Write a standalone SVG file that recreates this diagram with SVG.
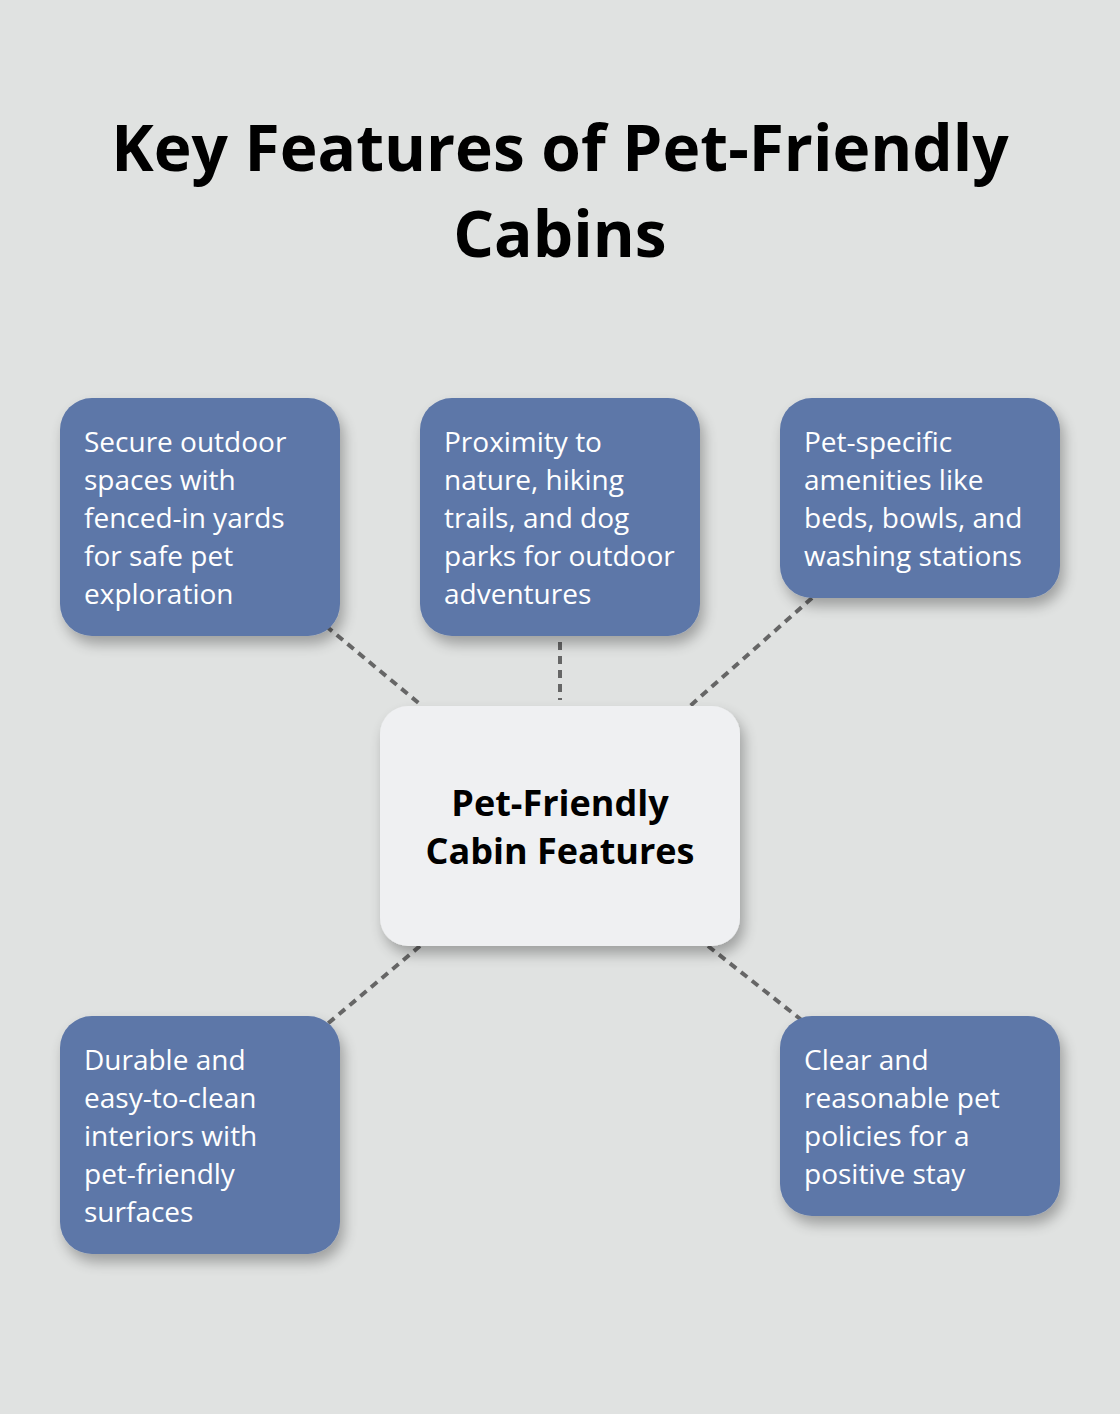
<svg xmlns="http://www.w3.org/2000/svg" width="1120" height="1414" viewBox="0 0 1120 1414">
<defs>
<filter id="sh" x="-20%" y="-20%" width="150%" height="150%">
<feGaussianBlur in="SourceAlpha" stdDeviation="7"/>
<feOffset dx="4" dy="8" result="b"/>
<feComponentTransfer><feFuncA type="linear" slope="0.3"/></feComponentTransfer>
<feMerge><feMergeNode/><feMergeNode in="SourceGraphic"/></feMerge>
</filter>
<style>
.title{font-family:"Open Sans","Noto Sans",sans-serif;font-weight:700;font-size:64px;fill:#000;text-anchor:middle}
.feat{fill:#5D77A8;filter:url(#sh)}
.ft{font-family:"Open Sans","Noto Sans",sans-serif;font-size:28px;fill:#fff}
.center{fill:#EFF0F2;filter:url(#sh)}
.ct{font-family:"Open Sans","Noto Sans",sans-serif;font-weight:700;font-size:36px;fill:#000;text-anchor:middle}
.conn{stroke:#666;stroke-width:4;stroke-dasharray:8,6;fill:none}
</style>
</defs>
<rect width="1120" height="1414" fill="#E0E2E1"/>
<g id="title">
<text class="title" x="560" y="171">Key Features of Pet-Friendly</text>
<text class="title" x="560" y="257">Cabins</text>
</g>
<g id="connectors">
<line class="conn" x1="326" y1="626" x2="421" y2="705"/>
<line class="conn" x1="560" y1="642" x2="560" y2="700"/>
<line class="conn" x1="812" y1="598" x2="690" y2="706"/>
<line class="conn" x1="420" y1="946" x2="325" y2="1026"/>
<line class="conn" x1="708" y1="946" x2="804" y2="1022"/>
</g>
<g id="center">
<rect class="center" x="380" y="706" width="360" height="240" rx="28"/>
<text class="ct" x="560" y="816">Pet-Friendly</text>
<text class="ct" x="560" y="864">Cabin Features</text>
</g>
<g id="n1">
<rect class="feat" x="60" y="398" width="280" height="238" rx="32"/>
<text class="ft" x="84" y="452">Secure outdoor</text>
<text class="ft" x="84" y="490">spaces with</text>
<text class="ft" x="84" y="528">fenced-in yards</text>
<text class="ft" x="84" y="566">for safe pet</text>
<text class="ft" x="84" y="604">exploration</text>
</g>
<g id="n2">
<rect class="feat" x="420" y="398" width="280" height="238" rx="32"/>
<text class="ft" x="444" y="452">Proximity to</text>
<text class="ft" x="444" y="490">nature, hiking</text>
<text class="ft" x="444" y="528">trails, and dog</text>
<text class="ft" x="444" y="566">parks for outdoor</text>
<text class="ft" x="444" y="604">adventures</text>
</g>
<g id="n3">
<rect class="feat" x="780" y="398" width="280" height="200" rx="32"/>
<text class="ft" x="804" y="452">Pet-specific</text>
<text class="ft" x="804" y="490">amenities like</text>
<text class="ft" x="804" y="528">beds, bowls, and</text>
<text class="ft" x="804" y="566">washing stations</text>
</g>
<g id="n4">
<rect class="feat" x="60" y="1016" width="280" height="238" rx="32"/>
<text class="ft" x="84" y="1070">Durable and</text>
<text class="ft" x="84" y="1108">easy-to-clean</text>
<text class="ft" x="84" y="1146">interiors with</text>
<text class="ft" x="84" y="1184">pet-friendly</text>
<text class="ft" x="84" y="1222">surfaces</text>
</g>
<g id="n5">
<rect class="feat" x="780" y="1016" width="280" height="200" rx="32"/>
<text class="ft" x="804" y="1070">Clear and</text>
<text class="ft" x="804" y="1108">reasonable pet</text>
<text class="ft" x="804" y="1146">policies for a</text>
<text class="ft" x="804" y="1184">positive stay</text>
</g>
</svg>
